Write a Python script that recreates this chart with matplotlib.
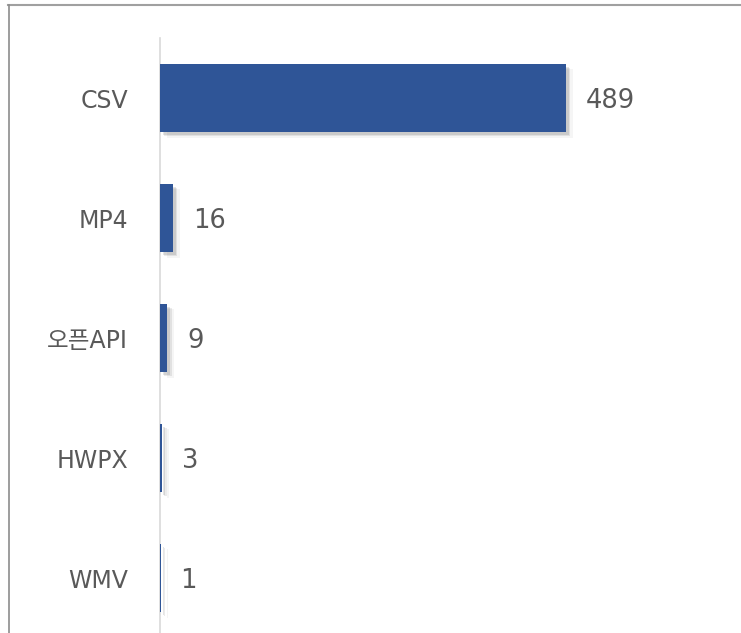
import matplotlib
matplotlib.use("Agg")
import matplotlib.pyplot as plt
import matplotlib.patheffects as pe
from matplotlib.lines import Line2D

plt.rcParams['font.family'] = ['DejaVu Sans', 'Noto Sans CJK KR']

categories = ['CSV', 'MP4', '오픈API', 'HWPX', 'WMV']
counts = [489, 16, 9, 3, 1]

bar_color = '#2F5597'
text_color = '#595959'

fig = plt.figure(figsize=(7.41, 6.33), dpi=100)
ax = fig.add_axes([160 / 741, (633 - 638) / 633, 560 / 741, 600 / 633])

# soft shadow, a few layers to fake the blur
shadow = [
    pe.SimplePatchShadow(offset=(5, -4), shadow_rgbFace='#000000', alpha=0.04),
    pe.SimplePatchShadow(offset=(3, -3), shadow_rgbFace='#000000', alpha=0.08),
    pe.SimplePatchShadow(offset=(2, -2), shadow_rgbFace='#000000', alpha=0.10),
    pe.Normal(),
]

y = list(range(len(categories)))
bars = ax.barh(y, counts, height=0.57, color=bar_color, zorder=3)
for b in bars:
    b.set_path_effects(shadow)

for yi, v in zip(y, counts):
    ax.annotate(str(v), (v, yi), xytext=(14, 0), textcoords='offset points',
                va='center_baseline', ha='left', fontsize=18.5, color=text_color)

ax.set_xlim(0, 674)
ax.set_ylim(len(categories) - 0.5, -0.5)
ax.set_yticks(y)
ax.set_yticklabels(categories, fontsize=17, color=text_color)
ax.tick_params(axis='y', length=0, pad=23)
ax.set_xticks([])
for s in ['top', 'right', 'bottom']:
    ax.spines[s].set_visible(False)
ax.spines['left'].set_color('#D9D9D9')
ax.spines['left'].set_linewidth(1.2)

# outer frame lines (top and left only visible)
fig.add_artist(Line2D([8 / 741, 1], [1 - 4.5 / 633, 1 - 4.5 / 633],
                      transform=fig.transFigure, color='#A0A0A0', lw=1.5))
fig.add_artist(Line2D([8.5 / 741, 8.5 / 741], [0, 1 - 4.5 / 633],
                      transform=fig.transFigure, color='#8C8C8C', lw=1.2))

fig.savefig('out.png', dpi=100)
